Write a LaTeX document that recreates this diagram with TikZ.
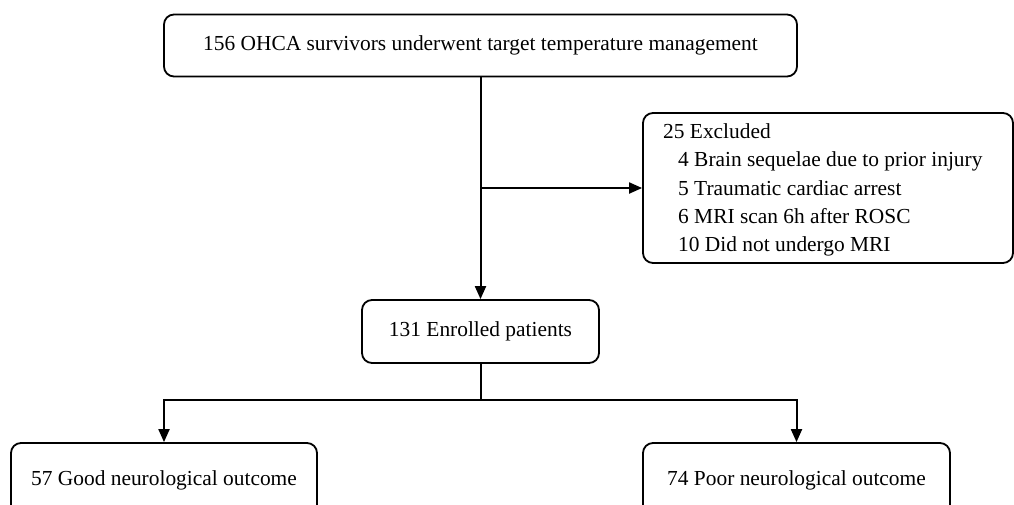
\documentclass[tikz,border=0pt]{standalone}
\usepackage{fontspec}
\setmainfont{Liberation Serif}
\usetikzlibrary{arrows.meta}
\begin{document}
\begin{tikzpicture}[x=1pt,y=-1pt,
  txt/.style={inner sep=0pt,font=\fontsize{21.4}{28.3}\selectfont},
  box/.style={txt,draw=black,line width=1.8pt,rounded corners=10pt,align=center},
  conn/.style={line width=2pt},
  arr/.style={conn,-{Triangle[length=13pt,width=11pt]}}]
\useasboundingbox (0,0) rectangle (1014,504);
\begin{scope}
\clip (0,0) rectangle (1014,504);
\node[box,minimum width=633pt,minimum height=62pt] (top) at (480.5,45.5) {156 OHCA survivors underwent target temperature management};
\node[box,minimum width=370pt,minimum height=150pt] (excl) at (828,188) {};
\node[txt,align=left,anchor=west] (excltxt) at (663,190)
  {25 Excluded\\
   \hspace*{15pt}4 Brain sequelae due to prior injury\\
   \hspace*{15pt}5 Traumatic cardiac arrest\\
   \hspace*{15pt}6 MRI scan 6h after ROSC\\
   \hspace*{15pt}10 Did not undergo MRI};
\node[box,minimum width=237pt,minimum height=63pt] (mid) at (480.5,331.5) {131 Enrolled patients};
\node[box,minimum width=306pt,minimum height=74pt] (good) at (164,480) {57 Good neurological outcome};
\node[box,minimum width=307pt,minimum height=74pt] (poor) at (796.5,480) {74 Poor neurological outcome};
\coordinate (j) at (top.south |- excl.west);
\coordinate (split) at (480.5,400);
\draw[arr] (top.south) -- (mid.north);
\draw[arr] (j) -- (excl.west);
\draw[conn] (mid.south) -- (split);
\draw[arr] (split) -| (good.north);
\draw[arr] (split) -| (poor.north);
\end{scope}
\end{tikzpicture}
\end{document}
